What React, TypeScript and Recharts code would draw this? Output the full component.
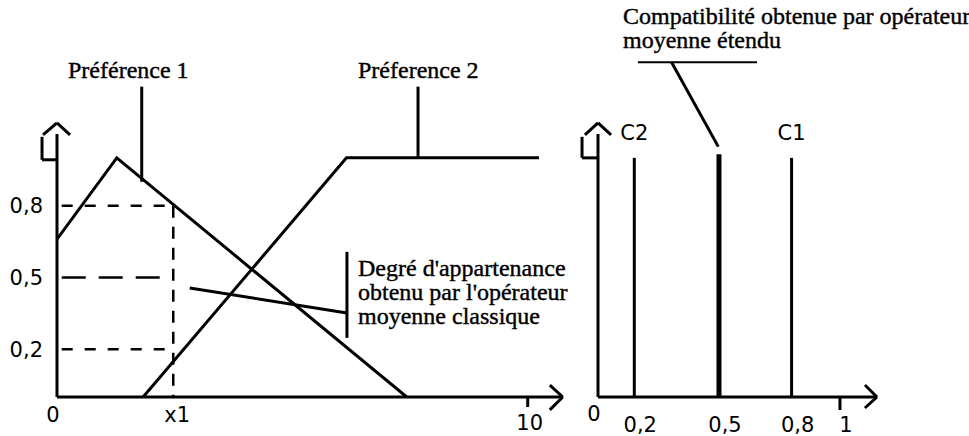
import React from 'react';
import { LineChart, Line, XAxis, YAxis, ReferenceLine, ReferenceDot } from 'recharts';

// left panel: two preference membership functions
const X1 = 2.47;
const pref1 = [
  { x: 0, y: 0.66 },
  { x: 1.27, y: 1 },
  { x: 7.43, y: 0 },
];
const pref2 = [
  { x: 1.83, y: 0 },
  { x: 6.15, y: 1 },
  { x: 10.24, y: 1 },
];
const leftXTicks = [0, X1, 10];
const leftXTickLabels = ['0', 'x1', '10'];
const leftYTicks = [0.2, 0.5, 0.8];
const leftYTickLabels = ['0,2', '0,5', '0,8'];

// right panel: compatibilities
const compatValues = [0.15, 0.5, 0.8];
const compatNames = ['C2', '', 'C1'];
const rightXTicks = [0, 0.15, 0.5, 0.8, 1];
const rightXTickLabels = ['0', '0,2', '0,5', '0,8', '1'];

const INK = '#000';
const SANS = 'DejaVu Sans';
const SERIF = '"Liberation Serif", "Times New Roman", serif';

type Pt = { x: number; y: number };
const seg = (a: Pt, b: Pt) => [a, b] as any;

function LeftXTick(props: any) {
  const { x, y, payload } = props;
  const v = payload.value;
  const label = leftXTickLabels[leftXTicks.indexOf(v)];
  const dx = v === 0 ? -4 : v === X1 ? 4 : 2;
  const dy = v === 10 ? 33 : 25;
  return (
    <g>
      {v === 10 && <line x1={x} x2={x} y1={y} y2={y + 10} stroke={INK} strokeWidth={3} />}
      <text x={x + dx} y={y + dy} textAnchor="middle" fontFamily={SANS} fontSize={21} fill={INK}>
        {label}
      </text>
    </g>
  );
}

function RightXTick(props: any) {
  const { x, y, payload } = props;
  const v = payload.value;
  const label = rightXTickLabels[rightXTicks.indexOf(v)];
  const dx = v === 0 ? -4 : 6;
  const dy = v === 0 ? 24 : 35;
  return (
    <g>
      {v === 1 && <line x1={x} x2={x} y1={y} y2={y + 13} stroke={INK} strokeWidth={3} />}
      <text x={x + dx} y={y + dy} textAnchor="middle" fontFamily={SANS} fontSize={21} fill={INK}>
        {label}
      </text>
    </g>
  );
}

const textStyle: React.CSSProperties = {
  position: 'absolute',
  fontFamily: SERIF,
  fontSize: 24,
  lineHeight: '24px',
  color: INK,
  whiteSpace: 'nowrap',
  WebkitTextStroke: '0.4px #000',
};

export default function App() {
  return (
    <div style={{ position: 'absolute', left: 0, top: 0, width: 969, height: 436, background: '#fff', overflow: 'hidden' }}>
      <div style={{ position: 'absolute', left: 0, top: 0 }}>
        <LineChart width={600} height={436} margin={{ top: 122, right: 37, bottom: 9, left: 17 }}>
          <XAxis
            type="number"
            dataKey="x"
            domain={[0, 10.75]}
            ticks={leftXTicks}
            interval={0}
            allowDataOverflow
            height={30}
            axisLine={{ stroke: INK, strokeWidth: 3 }}
            tickLine={false}
            tickSize={0}
            tickMargin={0}
            tick={(p: any) => <LeftXTick {...p} />}
          />
          <YAxis
            type="number"
            domain={[0, 1.15]}
            ticks={leftYTicks}
            interval={0}
            allowDataOverflow
            width={40}
            axisLine={false}
            tickLine={false}
            tickSize={0}
            tickMargin={14}
            tick={{ fill: INK, fontSize: 21, fontFamily: SANS }}
            tickFormatter={(v: number) => leftYTickLabels[leftYTicks.indexOf(v)]}
          />
          {/* y axis with its arrow */}
          <ReferenceLine segment={seg({ x: 0, y: 0 }, { x: 0, y: 1.1 })} stroke={INK} strokeWidth={3} ifOverflow="visible" />
          <ReferenceLine segment={seg({ x: -0.297, y: 1.096 }, { x: 0, y: 1.146 })} stroke={INK} strokeWidth={3} ifOverflow="visible" />
          <ReferenceLine segment={seg({ x: 0, y: 1.146 }, { x: 0.276, y: 1.096 })} stroke={INK} strokeWidth={3} ifOverflow="visible" />
          <ReferenceLine segment={seg({ x: -0.318, y: 1.088 }, { x: -0.318, y: 0.992 })} stroke={INK} strokeWidth={3} ifOverflow="visible" />
          <ReferenceLine segment={seg({ x: -0.318, y: 0.992 }, { x: 0, y: 0.992 })} stroke={INK} strokeWidth={3} ifOverflow="visible" />
          {/* x axis arrow */}
          <ReferenceLine segment={seg({ x: 10.47, y: 0.05 }, { x: 10.745, y: 0 })} stroke={INK} strokeWidth={3} ifOverflow="visible" />
          <ReferenceLine segment={seg({ x: 10.745, y: 0 }, { x: 10.47, y: -0.054 })} stroke={INK} strokeWidth={3} ifOverflow="visible" />

          {/* dashed guides at x1 */}
          <ReferenceLine segment={seg({ x: 0.1, y: 0.8 }, { x: X1, y: 0.8 })} stroke={INK} strokeWidth={2.5} strokeDasharray="11 12" ifOverflow="visible" />
          <ReferenceLine segment={seg({ x: 0.1, y: 0.5 }, { x: X1, y: 0.5 })} stroke={INK} strokeWidth={2.5} strokeDasharray="24 13" ifOverflow="visible" />
          <ReferenceLine segment={seg({ x: 0.1, y: 0.2 }, { x: X1, y: 0.2 })} stroke={INK} strokeWidth={2.5} strokeDasharray="11 12" ifOverflow="visible" />
          <ReferenceLine segment={seg({ x: X1, y: 0.8 }, { x: X1, y: 0 })} stroke={INK} strokeWidth={2.5} strokeDasharray="12 9" ifOverflow="visible" />

          <Line data={pref1} dataKey="y" type="linear" stroke={INK} strokeWidth={3} dot={false} isAnimationActive={false} />
          <Line data={pref2} dataKey="y" type="linear" stroke={INK} strokeWidth={3} dot={false} isAnimationActive={false} />

          {/* leaders */}
          <ReferenceLine segment={seg({ x: 1.8, y: 1.298 }, { x: 1.8, y: 0.9 })} stroke={INK} strokeWidth={3} ifOverflow="visible" />
          <ReferenceLine segment={seg({ x: 7.67, y: 1.298 }, { x: 7.67, y: 1 })} stroke={INK} strokeWidth={3} ifOverflow="visible" />
          <ReferenceLine segment={seg({ x: 2.82, y: 0.456 }, { x: 6.16, y: 0.351 })} stroke={INK} strokeWidth={3} ifOverflow="visible" />
          <ReferenceLine segment={seg({ x: 6.16, y: 0.607 }, { x: 6.16, y: 0.247 })} stroke={INK} strokeWidth={3} ifOverflow="visible" />
        </LineChart>
      </div>

      <div style={{ position: 'absolute', left: 570, top: 0 }}>
        <LineChart width={399} height={436} margin={{ top: 122, right: 92, bottom: 9, left: 28 }}>
          <XAxis
            type="number"
            dataKey="x"
            domain={[0, 1.153]}
            ticks={rightXTicks}
            interval={0}
            allowDataOverflow
            height={30}
            axisLine={{ stroke: INK, strokeWidth: 3 }}
            tickLine={false}
            tickSize={0}
            tickMargin={0}
            tick={(p: any) => <RightXTick {...p} />}
          />
          <YAxis type="number" domain={[0, 1.15]} hide allowDataOverflow />
          <ReferenceLine segment={seg({ x: 0, y: 0 }, { x: 0, y: 1.1 })} stroke={INK} strokeWidth={3} ifOverflow="visible" />
          <ReferenceLine segment={seg({ x: -0.054, y: 1.096 }, { x: 0, y: 1.146 })} stroke={INK} strokeWidth={3} ifOverflow="visible" />
          <ReferenceLine segment={seg({ x: 0, y: 1.146 }, { x: 0.054, y: 1.096 })} stroke={INK} strokeWidth={3} ifOverflow="visible" />
          <ReferenceLine segment={seg({ x: -0.066, y: 1.088 }, { x: -0.066, y: 1 })} stroke={INK} strokeWidth={3} ifOverflow="visible" />
          <ReferenceLine segment={seg({ x: -0.066, y: 1 }, { x: 0, y: 1 })} stroke={INK} strokeWidth={3} ifOverflow="visible" />
          <ReferenceLine segment={seg({ x: 1.103, y: 0.05 }, { x: 1.153, y: 0 })} stroke={INK} strokeWidth={3} ifOverflow="visible" />
          <ReferenceLine segment={seg({ x: 1.153, y: 0 }, { x: 1.103, y: -0.046 })} stroke={INK} strokeWidth={3} ifOverflow="visible" />

          {compatValues.map((v, i) => (
            <Line
              key={i}
              data={[{ x: v, y: 0 }, { x: v, y: i === 1 ? 1.015 : 1 }]}
              dataKey="y"
              type="linear"
              stroke={INK}
              strokeWidth={i === 1 ? 5 : 3}
              dot={false}
              isAnimationActive={false}
            />
          ))}
          {compatValues.map((v, i) =>
            compatNames[i] ? (
              <ReferenceDot
                key={'n' + i}
                x={v}
                y={1.105}
                r={0}
                fill="none"
                stroke="none"
                label={{ value: compatNames[i], position: 'center', fill: INK, fontSize: 21, fontFamily: SANS }}
              />
            ) : null
          )}

          <ReferenceLine segment={seg({ x: 0.165, y: 1.4 }, { x: 0.657, y: 1.4 })} stroke={INK} strokeWidth={2} ifOverflow="visible" />
          <ReferenceLine segment={seg({ x: 0.304, y: 1.4 }, { x: 0.497, y: 1.047 })} stroke={INK} strokeWidth={3} ifOverflow="visible" />
        </LineChart>
      </div>

      <div style={{ ...textStyle, left: 68, top: 58 }}>Préférence 1</div>
      <div style={{ ...textStyle, left: 358, top: 58 }}>Préference 2</div>
      <div style={{ ...textStyle, left: 623, top: 4 }}>
        Compatibilité obtenue par opérateur
        <br />
        moyenne étendu
      </div>
      <div style={{ ...textStyle, left: 358, top: 256 }}>
        Degré d'appartenance
        <br />
        obtenu par l'opérateur
        <br />
        moyenne classique
      </div>
    </div>
  );
}
